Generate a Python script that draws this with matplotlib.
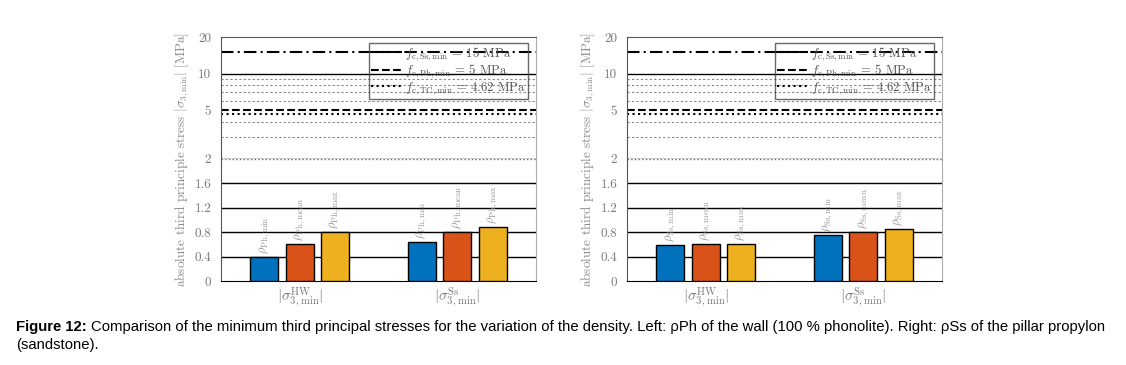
import matplotlib
matplotlib.use("Agg")
import matplotlib.pyplot as plt
import numpy as np

plt.rcParams['font.family'] = 'serif'
plt.rcParams['font.serif'] = ['cmr10', 'DejaVu Serif']
plt.rcParams['mathtext.fontset'] = 'cm'
plt.rcParams['axes.unicode_minus'] = False

# categories and bar values (MPa)
categories = [r'$|\sigma_{3,\min}^{\rm HW}|$', r'$|\sigma_{3,\min}^{\rm Ss}|$']
left_min = [0.387, 0.63]
left_mean = [0.60, 0.80]
left_max = [0.80, 0.88]
right_min = [0.587, 0.756]
right_mean = [0.60, 0.80]
right_max = [0.60, 0.85]

# strength limits
f_ss = 15.0
f_ph = 5.0
f_tc = 4.62

left_labels = [r'$\rho_{\rm Ph,min}$', r'$\rho_{\rm Ph,mean}$', r'$\rho_{\rm Ph,max}$']
right_labels = [r'$\rho_{\rm Ss,min}$', r'$\rho_{\rm Ss,mean}$', r'$\rho_{\rm Ss,max}$']

colors = ['#0072BD', '#D95319', '#EDB120']
grey = '#7a7a7a'

W, H = 1126, 365
fig = plt.figure(figsize=(W / 100, H / 100), dpi=100)


def fx(px):
    return px / W


def fy(py):
    return (H - py) / H


def draw_panel(x0, series, labels):
    w = 315
    top = fig.add_axes([fx(x0), fy(158.5), fx(w), fy(37) - fy(158.5)])
    low = fig.add_axes([fx(x0), fy(281), fx(w), fy(158.5) - fy(281)], sharex=top)

    x = np.arange(1, len(categories) + 1)
    width = 0.18
    offs = [-0.225, 0.0, 0.225]
    for vals, off, c, lab in zip(series, offs, colors, labels):
        low.bar(x + off, vals, width, color=c, edgecolor='black', linewidth=1.0, zorder=3)
        for xi, v in zip(x + off, vals):
            low.text(xi, v + 0.05, lab, rotation=90, ha='center', va='bottom',
                     fontsize=9, color='#999999', zorder=4)

    # lower linear part
    low.set_ylim(0, 2)
    low.set_xlim(0.5, 2.5)
    low.set_yticks([0, 0.4, 0.8, 1.2, 1.6])
    low.set_yticklabels(['0', '0.4', '0.8', '1.2', '1.6'])
    for v in [0.4, 0.8, 1.2, 1.6]:
        low.axhline(v, color='black', lw=1.0, zorder=1)
    low.axhline(2, color='#666666', lw=1.0, ls=':', zorder=1)
    low.set_xticks(x)
    low.set_xticklabels(categories, fontsize=11, color=grey)
    low.tick_params(axis='x', length=0, pad=3)
    low.tick_params(axis='y', length=0, pad=7, labelsize=9.5, labelcolor=grey)
    low.spines['top'].set_visible(False)
    low.spines['right'].set_color('#aaaaaa')
    low.spines['left'].set_color('#555555')
    low.spines['bottom'].set_color('black')

    # upper log part
    top.set_yscale('log')
    top.set_ylim(2, 20)
    top.set_yticks([2, 5, 10, 20])
    top.set_yticklabels(['2', '5', '10', '20'])
    top.yaxis.set_minor_locator(matplotlib.ticker.NullLocator())
    for v in [3, 4, 6, 7, 8, 9]:
        top.axhline(v, color='#888888', lw=0.8, ls=(0, (2, 2)), zorder=1)
    top.axhline(10, color='black', lw=1.0, zorder=1)
    top.axhline(2, color='black', lw=1.0, zorder=1)
    h1, = top.plot([0.5, 2.5], [f_ss, f_ss], color='black', lw=1.5, ls=(0, (6, 2, 1, 2)), zorder=2)
    h2, = top.plot([0.5, 2.5], [f_ph, f_ph], color='black', lw=1.5, ls='--', zorder=2)
    h3, = top.plot([0.5, 2.5], [f_tc, f_tc], color='black', lw=1.5, ls=':', zorder=2)
    top.tick_params(axis='x', bottom=False, labelbottom=False)
    top.tick_params(axis='y', length=0, pad=7, labelsize=9.5, labelcolor=grey)
    top.spines['bottom'].set_visible(False)
    top.spines['top'].set_color('#555555')
    top.spines['left'].set_color('#555555')
    top.spines['right'].set_color('#aaaaaa')

    leg = top.legend([h1, h2, h3],
                     [r'$f_{\rm c,Ss,min}$ = 15 MPa',
                      r'$f_{\rm c,Ph,min}$ = 5 MPa',
                      r'$f_{\rm c,TC,min}$ = 4.62 MPa'],
                     loc='upper right', bbox_to_anchor=(0.975, 0.95),
                     fontsize=9.2, frameon=True, fancybox=False,
                     edgecolor='#444444', borderpad=0.15, labelspacing=0.0,
                     handlelength=2.4, handletextpad=0.3, borderaxespad=0)
    leg.get_frame().set_facecolor('none')
    leg.get_frame().set_linewidth(1.0)
    for t in leg.get_texts():
        t.set_color('#555555')

    fig.text(fx(x0 - 39), fy(159), r'absolute third principle stress $|\sigma_{3,\min}|$ [MPa]',
             rotation=90, ha='center', va='center', fontsize=9.5, color='#8a8a8a')


draw_panel(221, [left_min, left_mean, left_max], left_labels)
draw_panel(627, [right_min, right_mean, right_max], right_labels)

# caption
cap_font = 'Liberation Sans'
t1 = fig.text(fx(16), fy(327), 'Figure 12:', fontsize=10.7, fontweight='bold',
              family=cap_font, va='center', ha='left')
fig.canvas.draw()
bb = t1.get_window_extent()
fig.text((bb.x1 + 4) / W, fy(327),
         'Comparison of the minimum third principal stresses for the variation of the density. '
         'Left: \u03c1Ph of the wall (100 % phonolite). Right: \u03c1Ss of the pillar propylon',
         fontsize=10.7, family=cap_font, va='center', ha='left')
fig.text(fx(16), fy(345), '(sandstone).', fontsize=10.7, family=cap_font, va='center', ha='left')

fig.savefig('out.png', dpi=100)
